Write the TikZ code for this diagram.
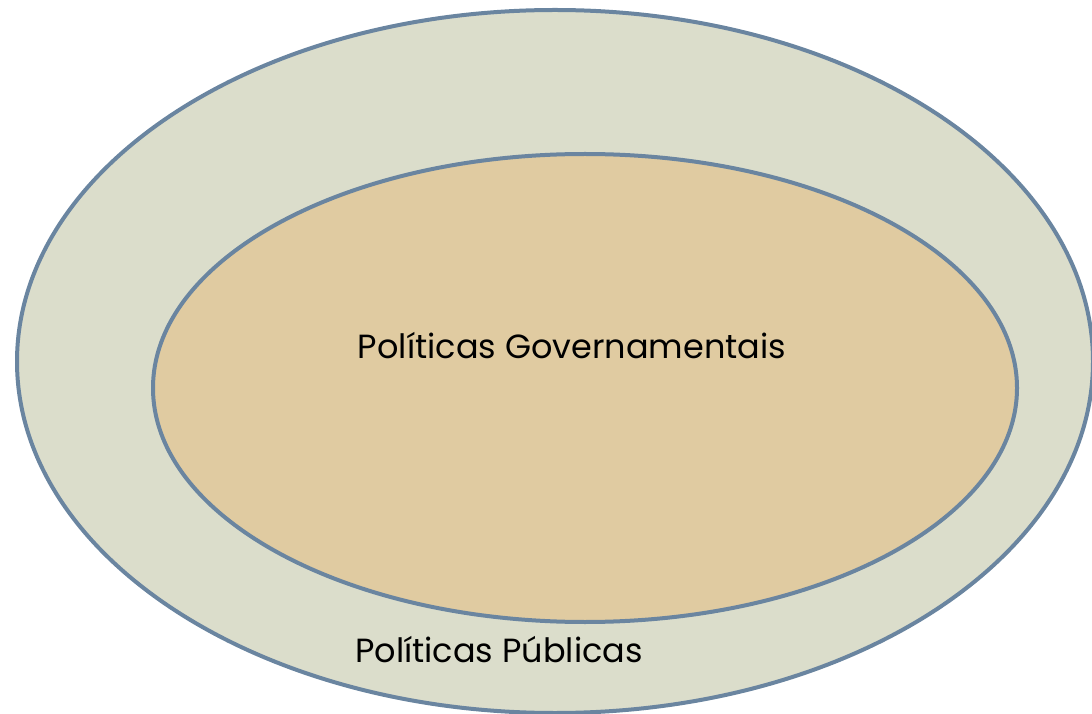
\documentclass[tikz,border=0pt]{standalone}
\usepackage{fontspec}
\setmainfont{Poppins}
\usetikzlibrary{shapes.geometric}
\definecolor{edgeblue}{HTML}{6A85A0}
\definecolor{outerfill}{HTML}{DBDDCB}
\definecolor{innerfill}{HTML}{E0CBA1}
\tikzset{
  ring/.style={ellipse, draw=edgeblue, line width=4pt, inner sep=0pt},
  label/.style={anchor=base, inner sep=0pt, text=black, font=\fontsize{33.5}{38}\selectfont}
}
\begin{document}
\begin{tikzpicture}[x=1pt,y=1pt]
\useasboundingbox (0,0) rectangle (1092,713);
\node[ring, fill=outerfill, minimum width=1076pt, minimum height=703pt] (outer) at (555,351.5) {};
\node[ring, fill=innerfill, minimum width=864pt, minimum height=468pt] (inner) at (585,325) {};
\node[label] (gov) at (572,354) {Políticas Governamentais};
\node[label] (pub) at (499,51) {Políticas Públicas};
\end{tikzpicture}
\end{document}
